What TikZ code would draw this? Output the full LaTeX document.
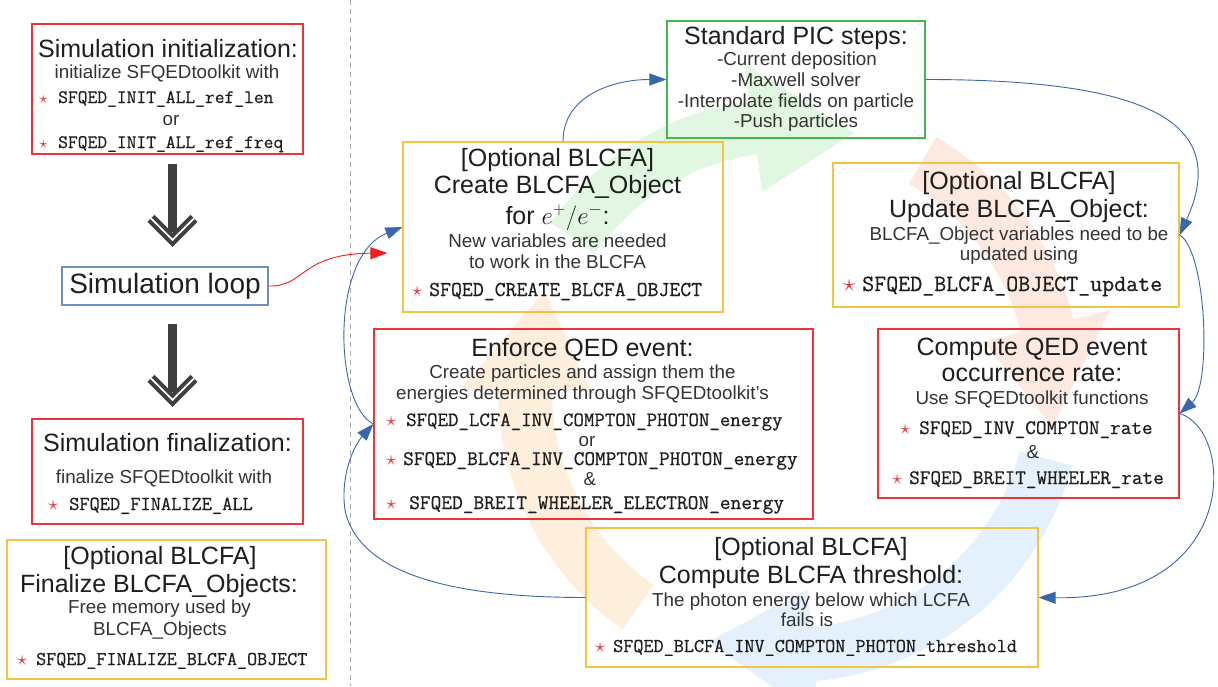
\documentclass[tikz,border=0pt]{standalone}
\usepackage{fontspec}
\setmainfont{Liberation Sans}
\newfontfamily\codefam{Latin Modern Mono}[AutoFakeBold=0.6]
\usetikzlibrary{arrows.meta,calc}
\definecolor{boxred}{HTML}{EE3338}
\definecolor{boxyel}{HTML}{F5C342}
\definecolor{boxgreen}{HTML}{45B850}
\definecolor{boxblue}{HTML}{6F8FC2}
\definecolor{conncol}{HTML}{3A67A9}
\definecolor{connred}{HTML}{F01E1E}
\definecolor{starred}{HTML}{E0383C}
\definecolor{arrowdark}{HTML}{3F3F3F}
\definecolor{titlecol}{HTML}{1E1E1E}
\definecolor{subcol}{HTML}{333333}
\definecolor{dashcol}{HTML}{AAAAAA}
\definecolor{bggreen}{HTML}{E1F7E1}
\definecolor{bgred}{HTML}{FDE9E0}
\definecolor{bgblue}{HTML}{E4F0FC}
\definecolor{bgorange}{HTML}{FEEEDC}
\newcommand\codeln[6]{%
  \node[code, font=\fontsize{#5}{#5}\selectfont\codefam\bfseries] (#1) at (#2,#4)
    {\makebox[\dimexpr#3pt-#2pt\relax][l]{\textcolor{starred}{$\star$}}#6};}
\newcommand\bgarrow[4]{%
  \fill[#1] plot[domain=#2:#3,samples=40] (\x:292) -- (#3:330) -- (#4:265) -- (#3:200)
    -- plot[domain=#3:#2,samples=40] (\x:238) -- cycle;}
\newcommand\bigdown[2]{%
  \draw[line width=9pt, arrowdark] (#1) -- ($(#2)+(0,-15)$);
  \draw[line width=10pt, arrowdark, miter limit=10] ($(#2)+(-21.5,-29)$) -- ($(#2)+(0,-7.5)$) -- ($(#2)+(21.5,-29)$);
  \draw[line width=1.8pt, white] ($(#2)+(-21.5,-29)$) -- ($(#2)+(0,-7.5)$) -- ($(#2)+(21.5,-29)$);}
\begin{document}
\begin{tikzpicture}[x=1pt,y=-1pt,
  box/.style={draw, line width=1.2pt, inner sep=0pt, rectangle},
  redbox/.style={box, draw=boxred},
  yelbox/.style={box, draw=boxyel},
  greenbox/.style={box, draw=boxgreen},
  bluebox/.style={box, draw=boxblue},
  title/.style={inner sep=0pt, anchor=base, text=titlecol, font=\fontsize{25}{27}\selectfont},
  sub/.style={inner sep=0pt, anchor=base, text=subcol, font=\fontsize{18.8}{21}\selectfont},
  code/.style={inner sep=0pt, anchor=base west, text=titlecol},
  link/.style={draw=conncol, line width=0.9pt, -{Triangle[length=17pt,width=12pt]}},
  redlink/.style={draw=connred, line width=0.9pt, -{Triangle[length=17pt,width=12pt]}},
]
\useasboundingbox (0,0) rectangle (1218,686);
\fill[white] (0,0) rectangle (1218,686);

% background cycle arrows
\begin{scope}[shift={(790,390)}, yscale=-1]
  \bgarrow{bggreen}{145}{98}{76}
  \bgarrow{bgred}{60}{14}{-8}
  \bgarrow{bgblue}{-15}{-85}{-108}
  \bgarrow{bgorange}{235}{180}{158}
\end{scope}

% separator
\draw[dashcol, line width=0.8pt, dash pattern=on 5pt off 4pt] (350,0) -- (350,686);

% boxes
\node[redbox, minimum width=271, minimum height=130] (init) at (167.5,89) {};
\node[bluebox, minimum width=206, minimum height=38, text=titlecol, font=\fontsize{28}{30}\selectfont] (loop) at (165,286) {Simulation loop};
\node[redbox, minimum width=271, minimum height=105] (final) at (167.5,471.5) {};
\node[yelbox, minimum width=319, minimum height=139] (finbl) at (166.5,609.5) {};
\node[greenbox, minimum width=258, minimum height=117] (pic) at (796,79.5) {};
\node[yelbox, minimum width=320, minimum height=170] (create) at (563,227) {};
\node[yelbox, minimum width=346, minimum height=144] (update) at (1006,235) {};
\node[redbox, minimum width=439, minimum height=190] (enforce) at (593.5,424) {};
\node[redbox, minimum width=301, minimum height=169] (rate) at (1028.5,413.5) {};
\node[yelbox, minimum width=452, minimum height=139] (thresh) at (812,597.5) {};

% init
\node[title] (initT) at (168,57) {Simulation initialization:};
\node[sub] (initS) at (167,78) {initialize SFQEDtoolkit with};
\codeln{initC1}{39}{58}{103}{19}{SFQED\_INIT\_ALL\_ref\_len}
\node[sub] (initOr) at (171,125) {or};
\codeln{initC2}{39}{58}{148}{19}{SFQED\_INIT\_ALL\_ref\_freq}

% final
\node[title] (finT) at (167.5,451) {Simulation finalization:};
\node[sub] (finS) at (164,483) {finalize SFQEDtoolkit with};
\codeln{finC}{48}{69}{510}{19.8}{SFQED\_FINALIZE\_ALL}

% finalize blcfa
\node[title] (fbT1) at (160,564) {[Optional BLCFA]};
\node[title] (fbT2) at (159,592) {Finalize BLCFA\_Objects:};
\node[sub] (fbS1) at (159.5,613) {Free memory used by};
\node[sub] (fbS2) at (160,635) {BLCFA\_Objects};
\codeln{fbC}{17}{36}{665}{19.5}{SFQED\_FINALIZE\_BLCFA\_OBJECT}

% pic
\node[title] (picT) at (796,44) {Standard PIC steps:};
\node[sub] (picS1) at (797,65) {-Current deposition};
\node[sub] (picS2) at (796,86) {-Maxwell solver};
\node[sub] (picS3) at (796,107) {-Interpolate fields on particle};
\node[sub] (picS4) at (796,127) {-Push particles};

% create
\node[title] (crT1) at (557.5,166) {[Optional BLCFA]};
\node[title] (crT2) at (557.5,193) {Create BLCFA\_Object};
\node[title] (crT3) at (557.5,224) {for $e^{+}/e^{-}$:};
\node[sub] (crS1) at (557.5,247) {New variables are needed};
\node[sub] (crS2) at (557.5,268) {to work in the BLCFA};
\codeln{crC}{412}{429}{296}{21.2}{SFQED\_CREATE\_BLCFA\_OBJECT}

% update
\node[title] (upT1) at (1019,189) {[Optional BLCFA]};
\node[title] (upT2) at (1019,217) {Update BLCFA\_Object:};
\node[sub] (upS1) at (1019,240) {BLCFA\_Object variables need to be};
\node[sub] (upS2) at (1019,260) {updated using};
\codeln{upC}{843}{862}{291}{23.3}{SFQED\_BLCFA\_OBJECT\_update}

% enforce
\node[title] (enT) at (582.5,356) {Enforce QED event:};
\node[sub] (enS1) at (582.5,378) {Create particles and assign them the};
\node[sub] (enS2) at (582.5,399) {energies determined through SFQEDtoolkit's};
\codeln{enC1}{386}{406}{426}{20.3}{SFQED\_LCFA\_INV\_COMPTON\_PHOTON\_energy}
\node[sub] (enOr) at (587,446) {or};
\codeln{enC2}{386}{403}{465}{20.7}{SFQED\_BLCFA\_INV\_COMPTON\_PHOTON\_energy}
\node[sub] (enAnd) at (590,485) {\&};
\codeln{enC3}{386}{409}{509}{20.8}{SFQED\_BREIT\_WHEELER\_ELECTRON\_energy}

% rate
\node[title] (raT1) at (1032,355) {Compute QED event};
\node[title] (raT2) at (1032,381) {occurrence rate:};
\node[sub] (raS) at (1032,404) {Use SFQEDtoolkit functions};
\codeln{raC1}{900}{919}{434}{20.6}{SFQED\_INV\_COMPTON\_rate}
\node[sub] (raAnd) at (1033,458) {\&};
\codeln{raC2}{892}{909}{484}{20.6}{SFQED\_BREIT\_WHEELER\_rate}

% threshold
\node[title] (thT1) at (811,555) {[Optional BLCFA]};
\node[title] (thT2) at (811,583) {Compute BLCFA threshold:};
\node[sub] (thS1) at (811,606) {The photon energy below which LCFA};
\node[sub] (thS2) at (807,626) {fails is};
\codeln{thC}{595}{613}{652}{19.6}{SFQED\_BLCFA\_INV\_COMPTON\_PHOTON\_threshold}

% big down arrows
\coordinate (a1s) at ($(init.south)+(5,9)$);
\coordinate (a1t) at ($(loop.north)+(7.5,-19)$);
\coordinate (a2s) at ($(loop.south)+(7.5,18)$);
\coordinate (a2t) at ($(final.north)+(5,-11)$);
\bigdown{a1s}{a1t}
\bigdown{a2s}{a2t}

% connectors
\coordinate (redend) at ($(create.west)+(-15,26)$);
\draw[redlink] (loop.east) .. controls +(37,1) and +(-88,1) .. (redend);
\draw[link] (create.north) .. controls +(0,-45) and +(-55,0) .. (pic.west);
\draw[link] (pic.east) .. controls +(230,0) and +(50,-110) .. (update.east);
\draw[link] (update.east) .. controls +(27,16) and +(32,-28) .. (rate.east);
\draw[link] (rate.east) .. controls +(56,17) and +(202,3) .. (thresh.east);
\draw[link] (thresh.west) .. controls +(-116,0) and +(15,70) .. (345,510) .. controls +(-5,-35) and +(-19,21) .. (enforce.west);
\draw[link] (enforce.west) .. controls +(-39,-19) and +(-73,29) .. (create.west);
\end{tikzpicture}
\end{document}
